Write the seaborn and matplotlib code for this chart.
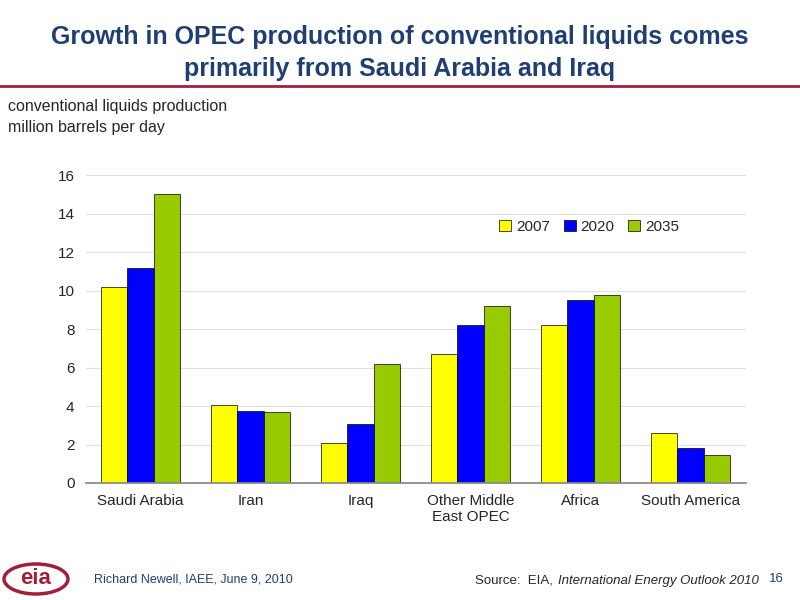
import matplotlib
matplotlib.use("Agg")
import matplotlib.pyplot as plt
import seaborn as sns
import pandas as pd
from matplotlib.patches import Ellipse

regions = ["Saudi Arabia", "Iran", "Iraq", "Other Middle\nEast OPEC", "Africa", "South America"]
years = ["2007", "2020", "2035"]
v2007 = [10.2, 4.05, 2.1, 6.7, 8.2, 2.6]
v2020 = [11.2, 3.75, 3.05, 8.2, 9.5, 1.8]
v2035 = [15.0, 3.7, 6.2, 9.2, 9.75, 1.45]

df = pd.DataFrame({
    "region": regions * 3,
    "year": [y for y in years for _ in regions],
    "value": v2007 + v2020 + v2035,
})

sns.set_theme(style="white")
plt.rcParams["font.family"] = ["Liberation Sans", "DejaVu Sans"]

fig = plt.figure(figsize=(8, 6), dpi=100)
ax = fig.add_axes([0.107, 0.195, 0.825, 0.513])
sns.barplot(data=df, x="region", y="value", hue="year", ax=ax,
            palette=["#FFFF00", "#0000FF", "#99CC00"], width=0.72,
            edgecolor="black", linewidth=0.5, saturation=1)

ax.set_ylim(0, 16)
ax.set_yticks(range(0, 17, 2))
ax.yaxis.grid(True, color="#e0e0e0", linewidth=0.8)
ax.set_axisbelow(True)
for s in ["top", "right", "left"]:
    ax.spines[s].set_visible(False)
ax.spines["bottom"].set_color("#888888")
ax.tick_params(axis="both", labelsize=11, length=0, pad=8)
ax.set_xlabel("")
ax.set_ylabel("")
ax.legend(loc="upper right", bbox_to_anchor=(0.92, 0.9), ncol=3, frameon=False,
          fontsize=11, handlelength=0.8, handleheight=0.8, columnspacing=0.9,
          handletextpad=0.3)

fig.text(0.5, 0.912, "Growth in OPEC production of conventional liquids comes\nprimarily from Saudi Arabia and Iraq",
         ha="center", va="center", fontsize=18, fontweight="bold", color="#1F3F73", linespacing=1.45)
fig.add_artist(plt.Line2D([0, 1], [0.857, 0.857], color="#A0203A", linewidth=2))
fig.text(0.01, 0.805, "conventional liquids production\nmillion barrels per day",
         ha="left", va="center", fontsize=11.5, linespacing=1.45)

fig.add_artist(Ellipse((0.045, 0.035), 0.08, 0.05, transform=fig.transFigure,
                       fill=False, edgecolor="#A0203A", linewidth=2.5))
fig.text(0.045, 0.035, "eia", ha="center", va="center", fontsize=16,
         fontweight="bold", color="#A0203A")
fig.text(0.118, 0.035, "Richard Newell, IAEE, June 9, 2010", fontsize=9,
         color="#1F3F73", va="center")
fig.text(0.696, 0.032, "Source:  EIA, ", fontsize=9.5, va="center", ha="right")
fig.text(0.697, 0.032, "International Energy Outlook 2010", fontsize=9.5,
         va="center", style="italic")
fig.text(0.98, 0.035, "16", fontsize=9.5, color="#1F3F73", va="center", ha="right")

fig.savefig("out.png", dpi=100)
